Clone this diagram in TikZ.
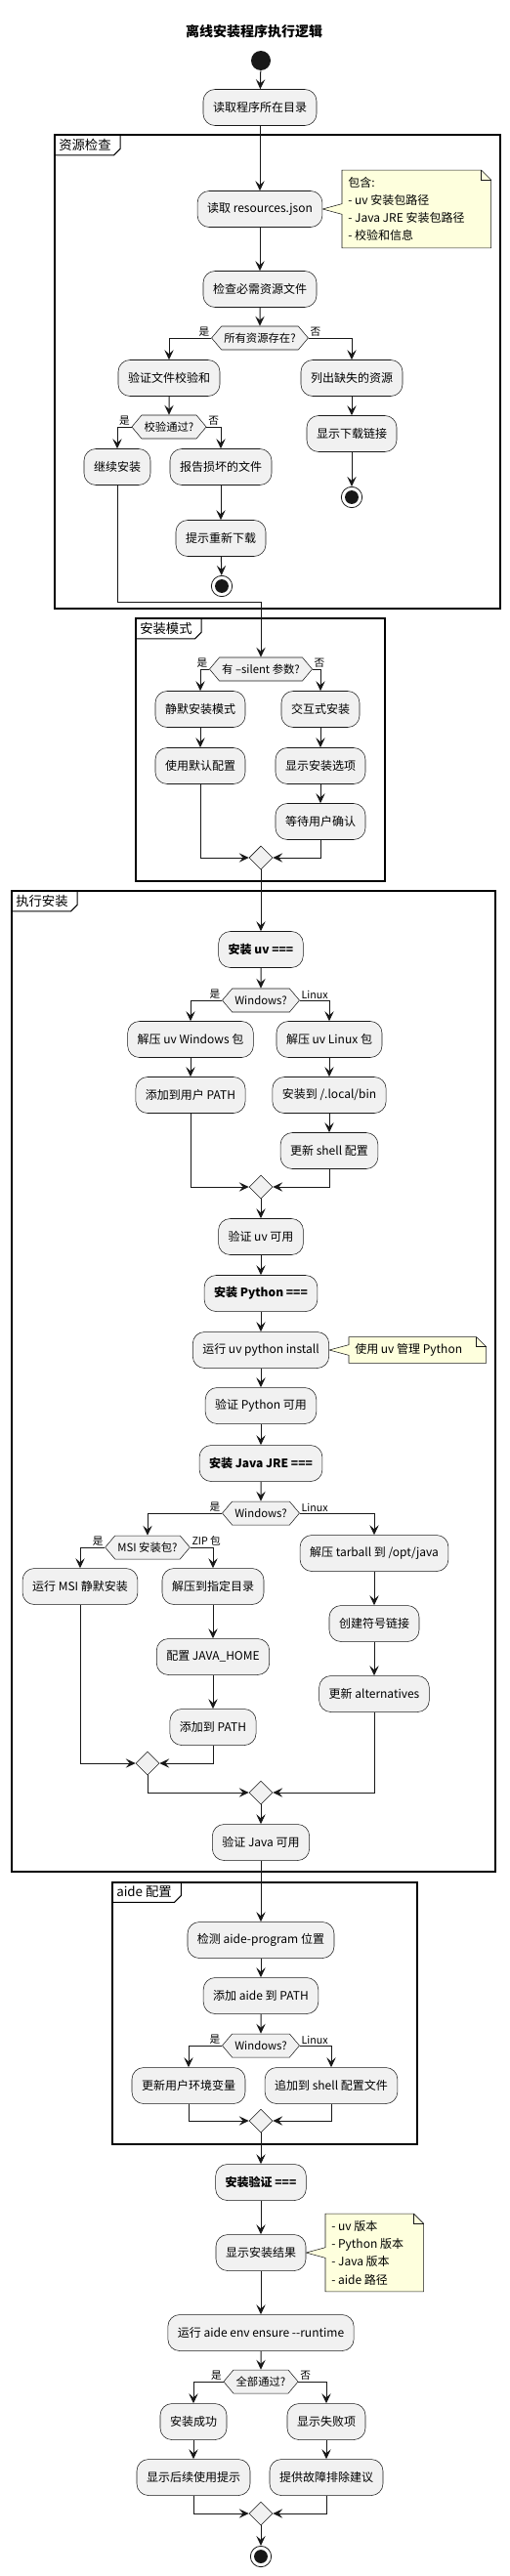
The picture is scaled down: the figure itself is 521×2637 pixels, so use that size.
\documentclass[tikz,border=0pt]{standalone}
\usepackage{fontspec}
\setmainfont{Noto Sans CJK SC}
\usetikzlibrary{arrows.meta,shapes.geometric,shapes.symbols,backgrounds}
\definecolor{actfill}{HTML}{F1F1F1}
\definecolor{lincol}{HTML}{181818}
\definecolor{notefill}{HTML}{FEFFDD}
\tikzset{
  act/.style={draw=lincol,line width=0.4pt,fill=actfill,rounded corners=9pt,minimum height=27.75pt,inner xsep=7.5pt,font=\fontsize{9}{11}\selectfont},
  acthead/.style={act,font=\fontsize{9}{11}\selectfont\bfseries},
  ask/.style={signal,signal to=east and west,signal pointer angle=100,draw=lincol,line width=0.4pt,fill=actfill,minimum height=18pt,inner xsep=2pt,inner ysep=0pt,font=\fontsize{8.5}{10}\selectfont},
  merge/.style={diamond,draw=lincol,line width=0.4pt,fill=actfill,minimum width=18pt,minimum height=18pt,inner sep=0pt},
  flow/.style={draw=lincol,line width=0.75pt,-{Stealth[length=7.5pt,width=7pt,inset=3pt]}},
  tag/.style={font=\fontsize{8}{9}\selectfont,inner sep=1pt},
  frame/.style={draw=black,line width=1.1pt},
  grouptag/.style={font=\fontsize{10}{12}\selectfont,inner xsep=3pt,inner ysep=3pt,anchor=north west},
  notetext/.style={align=left,inner xsep=4.5pt,inner ysep=5pt,anchor=west,font=\fontsize{9}{13.7}\selectfont,
    execute at begin node={\spaceskip=0pt\xspaceskip=0pt\relax}},
  notestyle/.style={draw=lincol,line width=0.4pt,fill=notefill},
  startpt/.style={circle,fill=lincol,minimum size=15pt,inner sep=0pt},
  endpt/.style={circle,draw=lincol,line width=0.6pt,fill=white,minimum size=16pt,inner sep=0pt,
    path picture={\fill[lincol] (path picture bounding box.center) circle (5.2pt);}}
}
\newcommand{\notecallout}[2]{%
  \begin{pgfonlayer}{background}
  \filldraw[notestyle] (#1.north west) -- ([xshift=-7.5pt]#1.north east) -- ([yshift=-7.5pt]#1.north east)
    -- (#1.south east) -- (#1.south west) -- ([yshift=-4pt]#1.west) -- (#2.east) -- ([yshift=4pt]#1.west) -- cycle;
  \draw[notestyle,fill=none] ([xshift=-7.5pt]#1.north east) |- ([yshift=-7.5pt]#1.north east);
  \end{pgfonlayer}}
\newcommand{\grouptab}[1]{%
  \draw[line width=0.75pt] ([xshift=4pt]#1.north east) -- ([xshift=4pt,yshift=5pt]#1.south east)
    -- ([xshift=-1pt]#1.south east) -- (#1.south west);}
\begin{document}
\begin{tikzpicture}[x=0.75pt,y=-0.75pt]
\useasboundingbox (0,0) rectangle (521,2637);
\node[font=\fontsize{10.5}{12}\selectfont\bfseries] (title) at (260,32) {离线安装程序执行逻辑};
\node[startpt] (start) at (267,62) {};
\node[act] (readdir) at (266,110) {读取程序所在目录};

\draw[frame] (56,138) rectangle (512,623);
\node[grouptag] (g1) at (56,138) {资源检查};
\grouptab{g1}
\node[act] (resjson) at (266,214) {读取 resources.json};
\node[notetext,text width=105pt] (n1) at (350,214) {包含:\\- uv 安装包路径\\- Java JRE 安装包路径\\- 校验和信息};
\notecallout{n1}{resjson}
\node[act] (checkres) at (266,296) {检查必需资源文件};
\node[ask] (hasall) at (266,346) {所有资源存在?};
\node[act] (verifysum) at (173,387) {验证文件校验和};
\node[act] (missing) at (360,387) {列出缺失的资源};
\node[ask] (sumok) at (173,437) {校验通过?};
\node[act] (showdl) at (360,444) {显示下载链接};
\node[endpt] (endA) at (360,509) {};
\node[act] (goon) at (120,478) {继续安装};
\node[act] (report) at (226,478) {报告损坏的文件};
\node[act] (retry) at (226,551) {提示重新下载};
\node[endpt] (endB) at (227,600) {};
\coordinate (j1) at (267,616);

\draw[frame] (139,633) rectangle (394,902);
\node[grouptag] (g2) at (139,633) {安装模式};
\grouptab{g2}
\node[ask] (silent) at (267,685) {有 --silent 参数?};
\node[act] (quiet) at (205,726) {静默安装模式};
\node[act] (interact) at (328,726) {交互式安装};
\node[act] (defcfg) at (205,784) {使用默认配置};
\node[act] (options) at (328,784) {显示安装选项};
\node[act] (confirm) at (328,841) {等待用户确认};
\node[merge] (mA) at (267,878) {};

\draw[frame] (12,912) rectangle (507,1916);
\node[grouptag] (g3) at (12,912) {执行安装};
\grouptab{g3}
\node[acthead] (uvhead) at (267,972) {安装 uv ===};
\node[ask] (winA) at (267,1024) {Windows?};
\node[act] (uvwin) at (195,1064) {解压 uv Windows 包};
\node[act] (uvlin) at (337,1064) {解压 uv Linux 包};
\node[act] (uvpath) at (195,1121) {添加到用户 PATH};
\node[act] (uvlocal) at (337,1121) {安装到 /.local/bin};
\node[act] (uvshell) at (337,1178) {更新 shell 配置};
\node[merge] (mB) at (267,1215) {};
\node[act] (uvok) at (267,1266) {验证 uv 可用};
\node[acthead] (pyhead) at (267,1324) {安装 Python ===};
\node[act] (pyinst) at (267,1382) {运行 uv python install};
\node[notetext,text width=96pt] (n2) at (357,1382) {使用 uv 管理 Python};
\notecallout{n2}{pyinst}
\node[act] (pyok) at (267,1439) {验证 Python 可用};
\node[acthead] (jvhead) at (267,1498) {安装 Java JRE ===};
\node[ask] (winB) at (267,1549) {Windows?};
\node[ask] (msiq) at (151,1584) {MSI 安装包?};
\node[act] (msirun) at (82,1624) {运行 MSI 静默安装};
\node[act] (unzip) at (218,1624) {解压到指定目录};
\node[act] (tarball) at (383,1590) {解压 tarball 到 /opt/java};
\node[act] (symlink) at (383,1662) {创建符号链接};
\node[act] (jhome) at (218,1696) {配置 JAVA\_HOME};
\node[act] (jalt) at (383,1734) {更新 alternatives};
\node[act] (jpath) at (218,1768) {添加到 PATH};
\node[merge] (mC) at (151,1805) {};
\node[merge] (mD) at (267,1835) {};
\node[act] (jvok) at (267,1886) {验证 Java 可用};

\draw[frame] (115,1927) rectangle (427,2195);
\node[grouptag] (g4) at (115,1927) {aide 配置};
\grouptab{g4}
\node[act] (aidefind) at (267,1986) {检测 aide-program 位置};
\node[act] (aidepath) at (267,2043) {添加 aide 到 PATH};
\node[ask] (winC) at (267,2094) {Windows?};
\node[act] (envvar) at (193,2135) {更新用户环境变量};
\node[act] (shellrc) at (339,2135) {追加到 shell 配置文件};
\node[merge] (mE) at (267,2171) {};

\node[acthead] (vhead) at (267,2234) {安装验证 ===};
\node[act] (result) at (267,2306) {显示安装结果};
\node[notetext,text width=66pt] (n3) at (333,2306) {- uv 版本\\- Python 版本\\- Java 版本\\- aide 路径};
\notecallout{n3}{result}
\node[act] (ensure) at (267,2388) {运行 aide env ensure -{}-runtime};
\node[ask] (allok) at (267,2438) {全部通过?};
\node[act] (okbox) at (198,2479) {安装成功};
\node[act] (failbox) at (334,2479) {显示失败项};
\node[act] (hint) at (198,2536) {显示后续使用提示};
\node[act] (advice) at (334,2536) {提供故障排除建议};
\node[merge] (mF) at (267,2573) {};
\node[endpt] (endC) at (267,2617) {};

\draw[flow] (start) -- (readdir);
\draw[flow] (readdir) -- (resjson);
\draw[flow] (resjson) -- (checkres);
\draw[flow] (checkres) -- (hasall);
\draw[flow] (hasall.west) node[tag,anchor=south east] (y1) {是} -| (verifysum);
\draw[flow] (hasall.east) node[tag,anchor=south west] (f1) {否} -| (missing);
\draw[flow] (verifysum) -- (sumok);
\draw[flow] (sumok.west) node[tag,anchor=south east] (y2) {是} -| (goon);
\draw[flow] (sumok.east) node[tag,anchor=south west] (f2) {否} -| (report);
\draw[flow] (missing) -- (showdl);
\draw[flow] (showdl) -- (endA);
\draw[flow] (report) -- (retry);
\draw[flow] (retry) -- (endB);
\draw[flow] (goon.south) |- (j1) -- (silent.north);
\draw[flow] (silent.west) node[tag,anchor=south east] (y3) {是} -| (quiet);
\draw[flow] (silent.east) node[tag,anchor=south west] (f3) {否} -| (interact);
\draw[flow] (quiet) -- (defcfg);
\draw[flow] (interact) -- (options);
\draw[flow] (options) -- (confirm);
\draw[flow] (defcfg.south) |- (mA);
\draw[flow] (confirm.south) |- (mA);
\draw[flow] (mA) -- (uvhead);
\draw[flow] (uvhead) -- (winA);
\draw[flow] (winA.west) node[tag,anchor=south east] (y4) {是} -| (uvwin);
\draw[flow] (winA.east) node[tag,anchor=south west] (l4) {Linux} -| (uvlin);
\draw[flow] (uvwin) -- (uvpath);
\draw[flow] (uvlin) -- (uvlocal);
\draw[flow] (uvlocal) -- (uvshell);
\draw[flow] (uvpath.south) |- (mB);
\draw[flow] (uvshell.south) |- (mB);
\draw[flow] (mB) -- (uvok);
\draw[flow] (uvok) -- (pyhead);
\draw[flow] (pyhead) -- (pyinst);
\draw[flow] (pyinst) -- (pyok);
\draw[flow] (pyok) -- (jvhead);
\draw[flow] (jvhead) -- (winB);
\draw[flow] (winB.west) node[tag,anchor=south east] (y5) {是} -| (msiq);
\draw[flow] (winB.east) node[tag,anchor=south west] (l5) {Linux} -| (tarball);
\draw[flow] (msiq.west) node[tag,anchor=south east] (y6) {是} -| (msirun);
\draw[flow] (msiq.east) node[tag,anchor=south west] (z6) {ZIP 包} -| (unzip);
\draw[flow] (unzip) -- (jhome);
\draw[flow] (jhome) -- (jpath);
\draw[flow] (tarball) -- (symlink);
\draw[flow] (symlink) -- (jalt);
\draw[flow] (msirun.south) |- (mC);
\draw[flow] (jpath.south) |- (mC);
\draw[flow] (mC.south) |- (mD);
\draw[flow] (jalt.south) |- (mD);
\draw[flow] (mD) -- (jvok);
\draw[flow] (jvok) -- (aidefind);
\draw[flow] (aidefind) -- (aidepath);
\draw[flow] (aidepath) -- (winC);
\draw[flow] (winC.west) node[tag,anchor=south east] (y7) {是} -| (envvar);
\draw[flow] (winC.east) node[tag,anchor=south west] (l7) {Linux} -| (shellrc);
\draw[flow] (envvar.south) |- (mE);
\draw[flow] (shellrc.south) |- (mE);
\draw[flow] (mE) -- (vhead);
\draw[flow] (vhead) -- (result);
\draw[flow] (result) -- (ensure);
\draw[flow] (ensure) -- (allok);
\draw[flow] (allok.west) node[tag,anchor=south east] (y8) {是} -| (okbox);
\draw[flow] (allok.east) node[tag,anchor=south west] (f8) {否} -| (failbox);
\draw[flow] (okbox) -- (hint);
\draw[flow] (failbox) -- (advice);
\draw[flow] (hint.south) |- (mF);
\draw[flow] (advice.south) |- (mF);
\draw[flow] (mF) -- (endC);
\end{tikzpicture}
\end{document}
